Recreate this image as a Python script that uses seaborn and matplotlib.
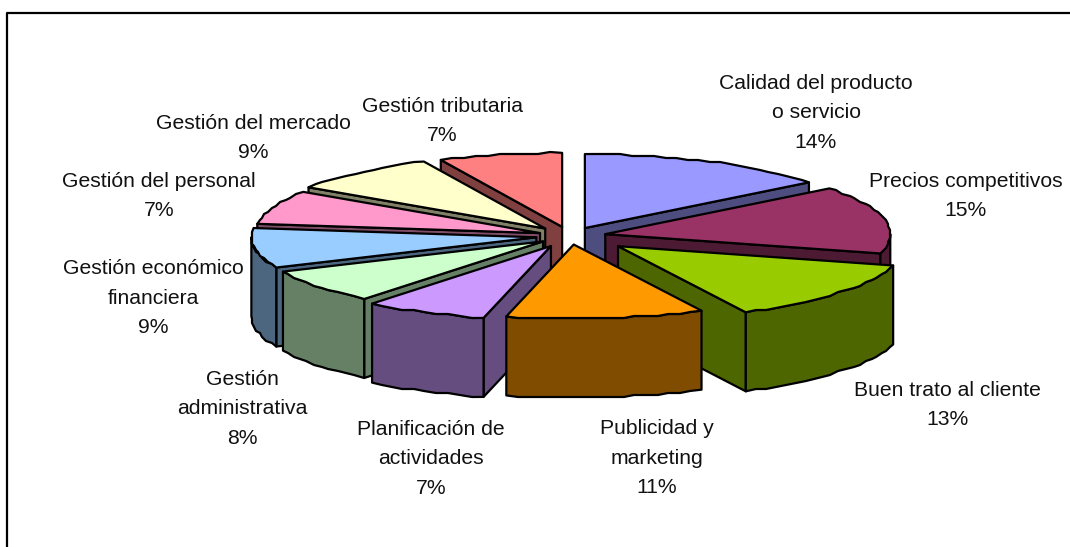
import numpy as np
import matplotlib
matplotlib.use('Agg')
import matplotlib.pyplot as plt
import seaborn as sns

# Datos (porcentajes sin redondear estimados)
categorias = ['Calidad del producto\no servicio', 'Precios competitivos', 'Buen trato al cliente',
              'Publicidad y\nmarketing', 'Planificación de\nactividades', 'Gestión\nadministrativa',
              'Gestión económico\nfinanciera', 'Gestión del personal', 'Gestión del mercado',
              'Gestión tributaria']
valores = [14.4, 14.8, 13.4, 11.2, 7.0, 7.5, 8.7, 7.4, 8.6, 7.0]
colores = ['#9999FF', '#993366', '#99CC00', '#FF9900', '#CC99FF',
           '#CCFFCC', '#99CCFF', '#FF99CC', '#FFFFCC', '#FF8080']

# Separacion de cada porcion y posicion de las etiquetas (pixeles)
separacion = [34, 36, 62, 33, 43, 34, 34, 32, 38, 36]
etiqueta_x = [816, 966, 947, 657, 431, 242, 153, 159, 253, 442]
etiqueta_y = [113, 196, 405, 458, 459, 409, 298, 196, 138, 121]

# Geometria del pastel
cx, cy = 570, 236
a, b = 285, 74
alto = 79


def proyectar(ang, ox, oy):
    # angulo en grados desde las 12, sentido horario
    t = np.radians(ang)
    return ox + a * np.sin(t), oy - b * np.cos(t)


def borde(x, y, paso=2.0):
    # el original tiene el arco escalonado
    return np.round(x / paso) * paso, np.round(y / paso) * paso


def arco(ini, fin, ox, oy):
    n = max(int(abs(fin - ini) / 2.2), 2)
    angs = np.r_[ini, np.linspace(ini, fin, n)[1:-1], fin]
    x, y = proyectar(angs, ox, oy)
    xs, ys = borde(x, y)
    xs[0], ys[0] = x[0], y[0]
    xs[-1], ys[-1] = x[-1], y[-1]
    return xs, ys


def cara(ax, x, y, color):
    ax.fill(x, y, facecolor=color, edgecolor='black', linewidth=1.6, joinstyle='round')


def dibujar_porcion(ax, ini, fin, ox, oy, color):
    oscuro = tuple(np.array(color) * 0.5)
    # caras de corte
    if np.sin(np.radians(ini)) < 0:
        px, py = proyectar(ini, ox, oy)
        cara(ax, [ox, px, px, ox], [oy, py, py + alto, oy + alto], oscuro)
    if np.sin(np.radians(fin)) > 0:
        px, py = proyectar(fin, ox, oy)
        cara(ax, [ox, px, px, ox], [oy, py, py + alto, oy + alto], oscuro)
    # pared exterior, solo la parte frontal
    i, f = max(ini, 90), min(fin, 270)
    if i < f:
        x, y = arco(i, f, ox, oy)
        cara(ax, np.r_[x, x[::-1]], np.r_[y, y[::-1] + alto], oscuro)
    # tapa
    x, y = arco(ini, fin, ox, oy)
    cara(ax, np.r_[ox, x], np.r_[oy, y], color)


sns.set_theme(style='white')
plt.rcParams['font.family'] = ['Liberation Sans', 'DejaVu Sans']

fig, ax = plt.subplots(figsize=(10.7, 5.47), dpi=100)
ax.set_position([0, 0, 1, 1])
ax.set_xlim(0, 1070)
ax.set_ylim(547, 0)
ax.axis('off')

# marco del grafico, sale por la derecha y por abajo
ax.plot([7, 7, 1075], [552, 13, 13], color='black', linewidth=1.6)

paleta = sns.color_palette(colores)
total = sum(valores)
fines = np.cumsum(valores) / total * 360
inicios = np.r_[0, fines[:-1]]
medios = (inicios + fines) / 2

# de atras hacia adelante
for k in np.argsort(-np.cos(np.radians(medios))):
    t = np.radians(medios[k])
    ox = cx + separacion[k] * np.sin(t)
    oy = cy - separacion[k] * np.cos(t) * b / a
    dibujar_porcion(ax, inicios[k], fines[k], ox, oy, paleta[k])

for nombre, v, x, y in zip(categorias, valores, etiqueta_x, etiqueta_y):
    ax.text(x, y, f'{nombre}\n{round(v / total * 100)}%', ha='center', va='center',
            multialignment='center', fontsize=15.2, color='#111111', linespacing=1.7)

fig.savefig('out.png', dpi=100, facecolor='white')
